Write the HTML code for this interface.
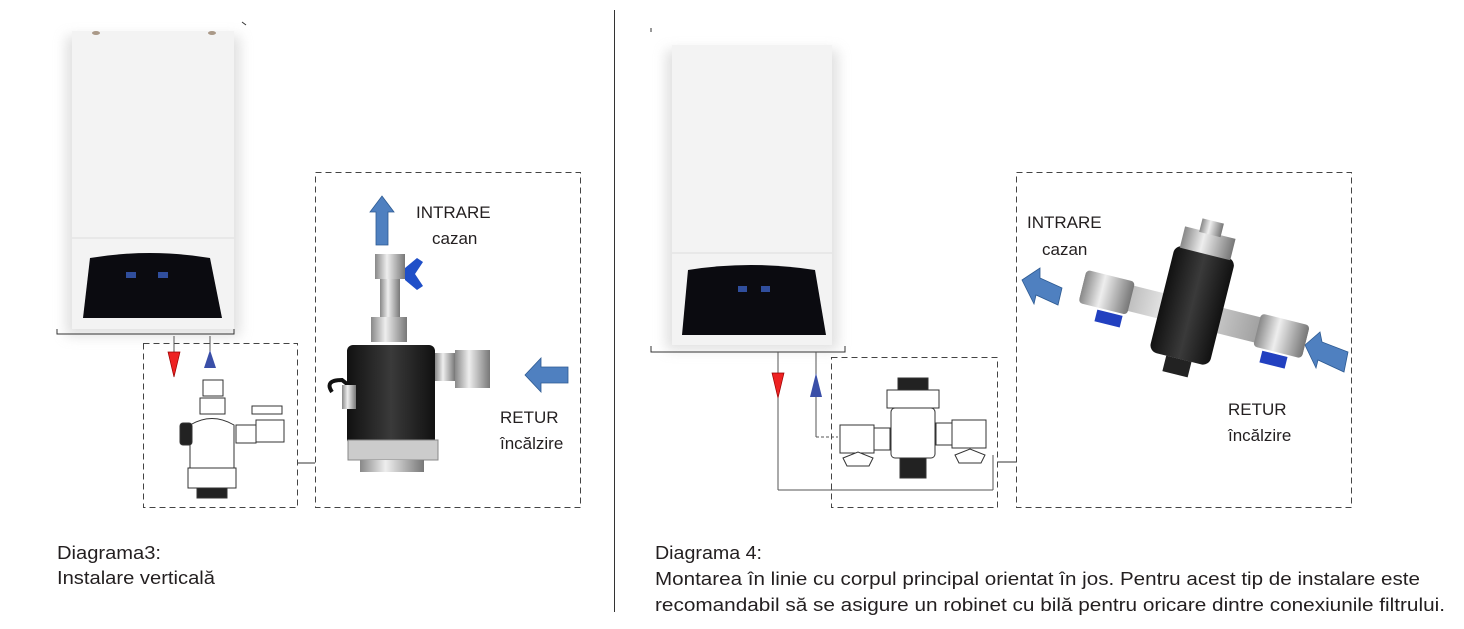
<!DOCTYPE html>
<html><head><meta charset="utf-8"><style>
html,body{margin:0;padding:0;background:#fff;}
svg{display:block;}
text{font-family:"Liberation Sans",sans-serif;fill:#231f20;}
</style></head><body>
<svg width="1464" height="629" viewBox="0 0 1464 629" xmlns="http://www.w3.org/2000/svg">
<defs>
<filter id="sh" x="-20%" y="-20%" width="140%" height="140%"><feGaussianBlur stdDeviation="6"/></filter>
<linearGradient id="met" x1="0" x2="1"><stop offset="0" stop-color="#888"/><stop offset="0.4" stop-color="#eee"/><stop offset="1" stop-color="#777"/></linearGradient>
<linearGradient id="blk" x1="0" x2="1"><stop offset="0" stop-color="#111"/><stop offset="0.5" stop-color="#3a3a3a"/><stop offset="1" stop-color="#111"/></linearGradient>
</defs>

<line x1="614.5" y1="10" x2="614.5" y2="612" stroke="#333" stroke-width="1"/>

<!-- LEFT BOILER -->
<rect x="66" y="36" width="174" height="300" fill="#ccc" filter="url(#sh)" opacity="0.6"/>
<rect x="72" y="31" width="162" height="298" fill="#f3f3f3"/>
<line x1="72" y1="238" x2="234" y2="238" stroke="#ddd"/>
<ellipse cx="96" cy="33" rx="4" ry="2" fill="#a98"/>
<ellipse cx="212" cy="33" rx="4" ry="2" fill="#a98"/>
<path d="M242 22 l4 3" stroke="#333"/>
<path d="M83 318 L90 258 Q150 248 210 258 L222 318 Z" fill="#0b0b10"/>
<g fill="#3a5fc0" opacity="0.8"><rect x="126" y="272" width="10" height="6"/><rect x="158" y="272" width="10" height="6"/></g>
<path d="M57 329 v5 h177 v-5" fill="none" stroke="#333"/>
<rect x="143.5" y="343.5" width="154" height="164" fill="none" stroke="#444" stroke-dasharray="6,4"/>
<line x1="174" y1="336" x2="174" y2="352" stroke="#555"/>
<line x1="210" y1="336" x2="210" y2="352" stroke="#555"/>
<path d="M168 352 L180 352 L174 377 Z" fill="#e22" stroke="#900" stroke-width="0.7"/>
<path d="M204 368 L216 368 L210 350 Z" fill="#3a4fa8"/>
<g fill="#fff" stroke="#333" stroke-width="1">
<rect x="203" y="380" width="20" height="16"/><rect x="200" y="398" width="25" height="16"/>
<path d="M190 425 Q212 412 234 425 L234 468 L190 468 Z"/>
<rect x="180" y="423" width="12" height="22" rx="3" fill="#222"/>
<rect x="236" y="425" width="20" height="18"/><rect x="256" y="420" width="28" height="22"/>
<rect x="252" y="406" width="30" height="8"/>
<rect x="188" y="468" width="48" height="20"/>
<rect x="197" y="488" width="30" height="10" fill="#222"/>
</g>
<line x1="298" y1="463" x2="315" y2="463" stroke="#333"/>
<rect x="315.5" y="172.5" width="265" height="335" fill="none" stroke="#444" stroke-dasharray="6,4"/>
<path d="M370 212 L382 196 L394 212 L388 212 L388 245 L376 245 L376 212 Z" fill="#4f80c0" stroke="#2d5a92" stroke-width="0.8"/>
<text x="416" y="218" font-size="17">INTRARE</text>
<text x="432" y="244" font-size="17">cazan</text>
<path d="M525 375 L541 358 L541 367 L568 367 L568 383 L541 383 L541 392 Z" fill="#4f80c0" stroke="#2d5a92" stroke-width="0.8"/>
<text x="500" y="423" font-size="17">RETUR</text>
<text x="500" y="449" font-size="17">încălzire</text>
<rect x="375" y="254" width="30" height="25" fill="url(#met)"/>
<rect x="380" y="279" width="20" height="40" fill="url(#met)"/>
<path d="M405 268 l12 -10 l6 4 l-8 12 l8 12 l-6 4 l-12 -10z" fill="#1f4fc8"/>
<rect x="371" y="317" width="36" height="25" fill="url(#met)"/>
<rect x="347" y="345" width="88" height="100" rx="6" fill="url(#blk)"/>
<rect x="435" y="353" width="20" height="28" fill="url(#met)"/>
<rect x="455" y="350" width="35" height="38" fill="url(#met)"/>
<path d="M332 392 q-8 -12 10 -12 l10 8" fill="none" stroke="#111" stroke-width="4"/>
<rect x="342" y="385" width="14" height="24" fill="url(#met)"/>
<rect x="348" y="440" width="90" height="20" fill="#ccc" stroke="#888"/>
<rect x="360" y="460" width="64" height="12" fill="url(#met)"/>

<text x="57" y="559" font-size="18" textLength="104" lengthAdjust="spacingAndGlyphs">Diagrama3:</text>
<text x="57" y="584" font-size="18" textLength="158" lengthAdjust="spacingAndGlyphs">Instalare verticală</text>

<!-- RIGHT BOILER -->
<rect x="666" y="50" width="172" height="300" fill="#ccc" filter="url(#sh)" opacity="0.6"/>
<rect x="672" y="45" width="160" height="300" fill="#f3f3f3"/>
<line x1="672" y1="253" x2="832" y2="253" stroke="#ddd"/>
<path d="M651 28 l0 4" stroke="#333"/>
<path d="M682 335 L688 270 Q750 260 815 270 L826 335 Z" fill="#0b0b10"/>
<g fill="#3a5fc0" opacity="0.8"><rect x="738" y="286" width="9" height="6"/><rect x="761" y="286" width="9" height="6"/></g>
<path d="M651 346 v6 h194 v-6" fill="none" stroke="#333"/>
<line x1="778" y1="352" x2="778" y2="490" stroke="#555"/>
<line x1="778" y1="490" x2="993" y2="490" stroke="#555"/>
<line x1="993" y1="490" x2="993" y2="455" stroke="#555"/>
<line x1="816" y1="352" x2="816" y2="437" stroke="#555"/>
<line x1="816" y1="437" x2="838" y2="437" stroke="#555" stroke-dasharray="3,2"/>
<path d="M772 373 L784 373 L778 398 Z" fill="#e22" stroke="#900" stroke-width="0.7"/>
<path d="M810 397 L822 397 L816 373 Z" fill="#3a4fa8"/>
<rect x="831.5" y="357.5" width="166" height="150" fill="none" stroke="#444" stroke-dasharray="6,4"/>
<g fill="#fff" stroke="#333" stroke-width="1">
<rect x="898" y="378" width="30" height="12" fill="#222"/>
<rect x="887" y="390" width="52" height="18"/>
<rect x="891" y="408" width="44" height="50" rx="4"/>
<rect x="874" y="428" width="16" height="22"/><rect x="840" y="425" width="34" height="28"/>
<rect x="936" y="423" width="16" height="22"/><rect x="952" y="420" width="34" height="28"/>
<path d="M843 458 l15 -6 l15 6 l-4 8 l-22 0 z"/>
<path d="M955 455 l15 -6 l15 6 l-4 8 l-22 0 z"/>
<rect x="900" y="458" width="26" height="20" fill="#222"/>
</g>
<line x1="998" y1="462" x2="1017" y2="462" stroke="#333"/>
<rect x="1016.5" y="172.5" width="335" height="335" fill="none" stroke="#444" stroke-dasharray="6,4"/>
<text x="1027" y="228" font-size="17">INTRARE</text>
<text x="1042" y="255" font-size="17">cazan</text>
<path d="M1022 280 L1040 268 L1040 278 L1062 288 L1058 305 L1036 295 L1034 304 Z" fill="#4f80c0" stroke="#2d5a92" stroke-width="0.8"/>
<path d="M1305 345 L1320 332 L1322 342 L1348 352 L1344 372 L1318 360 L1316 368 Z" fill="#4f80c0" stroke="#2d5a92" stroke-width="0.8"/>
<text x="1228" y="415" font-size="17">RETUR</text>
<text x="1228" y="441" font-size="17">încălzire</text>
<g transform="rotate(14 1190 310)">
<rect x="1080" y="300" width="230" height="26" fill="url(#met)"/>
<rect x="1080" y="296" width="50" height="34" rx="4" fill="url(#met)"/>
<rect x="1260" y="296" width="50" height="34" rx="4" fill="url(#met)"/>
<rect x="1160" y="250" width="62" height="110" rx="8" fill="url(#blk)"/>
<rect x="1165" y="230" width="52" height="22" fill="url(#met)"/>
<rect x="1180" y="218" width="22" height="14" fill="url(#met)"/>
<rect x="1178" y="360" width="26" height="16" fill="#222"/>
<rect x="1100" y="332" width="26" height="12" fill="#2240c0"/>
<rect x="1270" y="332" width="26" height="12" fill="#2240c0"/>
</g>

<text x="655" y="559" font-size="18" textLength="107" lengthAdjust="spacingAndGlyphs">Diagrama 4:</text>
<text x="655" y="585" font-size="18" textLength="765" lengthAdjust="spacingAndGlyphs">Montarea în linie cu corpul principal orientat în jos. Pentru acest tip de instalare  este</text>
<text x="655" y="611" font-size="18" textLength="790" lengthAdjust="spacingAndGlyphs">recomandabil să se asigure un robinet cu bilă pentru oricare dintre conexiunile filtrului.</text>
</svg>
</body></html>
